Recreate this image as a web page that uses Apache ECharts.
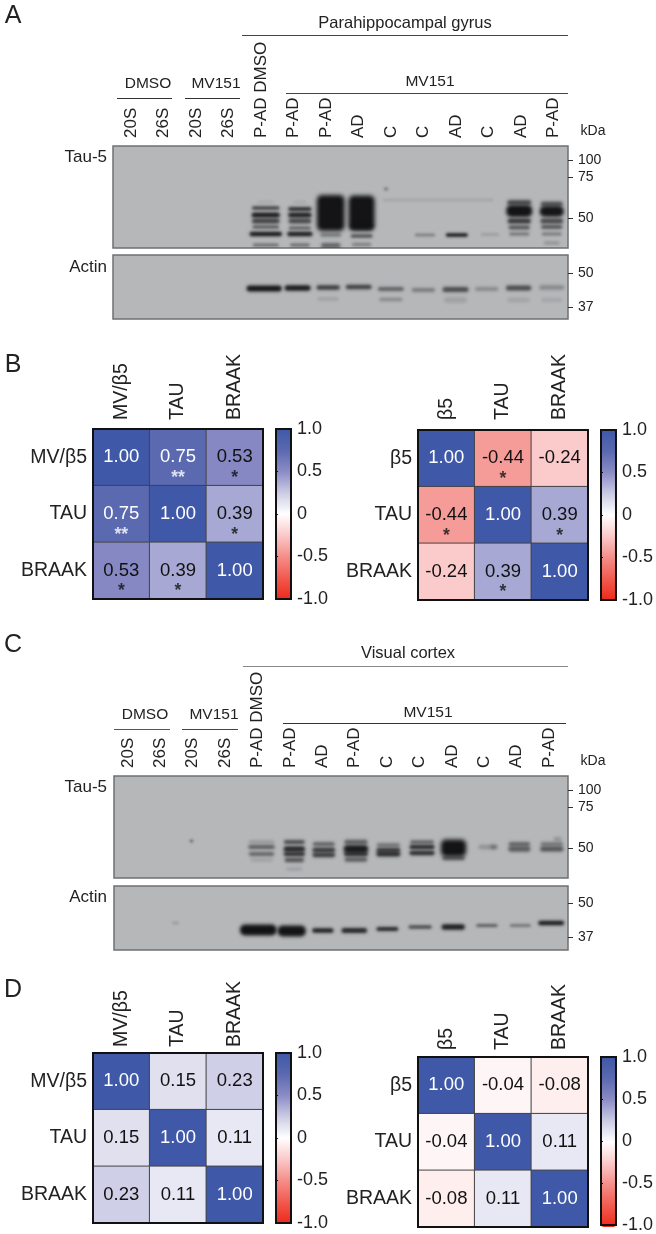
<!DOCTYPE html>
<html><head><meta charset="utf-8">
<style>html,body{margin:0;padding:0;background:#fff}#c{width:656px;height:1234px}</style>
<script src="https://cdn.jsdelivr.net/npm/echarts@6/dist/echarts.min.js"></script>
</head><body><div id="c"></div>
<script>
// ---------- data ----------
const lanesA = ['20S','26S','20S','26S','P-AD DMSO','P-AD','P-AD','AD','C','C','AD','C','AD','P-AD'];
const lanesC = ['20S','26S','20S','26S','P-AD DMSO','P-AD','AD','P-AD','C','C','AD','C','AD','P-AD'];
const tauMarkers = {14:'100',31:'75',72:'50'};
const actinMarkersA = {18:'50',52:'37'};
const actinMarkersC = {17:'50',51:'37'};
// band = [lane, lane shift, migration, breadth (lanes), thickness, intensity]
const tauBandsA = [
 [4,.2,56,.5,1.5,.12],[4,.2,62,.85,3.5,.7],[4,.2,69,.87,5,.95],[4,.2,75,.85,5,.72],[4,.2,81,.82,3,.6],[4,.2,88,1,4.5,.97],[4,.2,99,.8,3,.45],
 [5,.25,56,.4,1.5,.12],[5,.25,63,.72,4,.82],[5,.25,69,.72,5,.92],[5,.25,75,.7,5,.68],[5,.25,82,.68,3,.55],[5,.25,88,.78,4.5,.95],[5,.25,99,.6,3,.48],
 [6,.2,67,.85,36,.98],[6,.2,89,.65,3.5,.38],[6,.2,99.5,.6,5,.5],
 [7,.15,67,.8,35,.98],[7,.15,81,.72,6,.55],[7,.15,90,.68,3.5,.62],[7,.15,98.5,.6,3.5,.32],
 [9,.1,89,.62,2.5,.38],[10,.08,89,.68,3.5,.97],[11,.1,88.5,.56,2.5,.16],
 [12,0,56.5,.74,5,.65],[12,0,65,.8,12,.98],[12,0,75,.72,5,.78],[12,0,81.5,.66,4,.6],[12,0,88,.62,3,.42],
 [13,0,58,.68,5,.6],[13,0,65.3,.74,10.7,.96],[13,0,75,.7,5,.68],[13,0,81,.66,4,.58],[13,0,88,.62,3,.38],[13,0,97,.5,3.5,.2],
 [9.5,0,54,3.4,2,.13],[7.9,0,43,.1,2.5,.6]
];
const actinBandsA = [
 [4,.15,33.5,1.08,6,.98],[5,.18,33,.8,5.5,.95],[6,.12,32.5,.72,4.5,.75],[7,.06,32,.8,4.5,.72],[8,.05,34,.8,4,.52],
 [9,.05,35,.72,4,.36],[10,.04,34.5,.8,5,.65],[11,0,34,.72,4,.27],[12,-.02,33,.78,5,.66],[13,0,32.5,.77,4.5,.28],
 [6,.12,44,.65,3.5,.13],[8,.05,44.5,.72,3.5,.27],[10,.04,45,.7,5.5,.13],[12,-.02,45,.7,4.5,.11],[13,0,45,.65,4.5,.09]
];
const tauBandsC = [
 [4,.05,66,.8,3.5,.17],[4,.05,71,.82,4,.55],[4,.05,78,.78,4,.5],[4,.05,84,.7,3.5,.12],
 [5,.06,66,.65,4,.65],[5,.06,73,.66,5.5,.88],[5,.06,78,.66,4.5,.8],[5,.06,84,.6,4.5,.6],[5,.06,93,.5,3,.14],
 [6,-.03,68,.68,4,.5],[6,-.03,74,.7,5,.75],[6,-.03,79,.7,4.5,.75],
 [7,-.04,66,.72,4.5,.55],[7,-.04,73,.76,8,.93],[7,-.04,78,.74,4.5,.8],[7,-.04,83.5,.7,4.5,.55],
 [8,-.04,69,.72,4,.38],[8,-.04,74,.74,4.5,.75],[8,-.04,78,.74,5,.85],
 [9,0,66,.74,3.5,.5],[9,0,71,.78,4.5,.85],[9,0,77,.78,4.5,.85],
 [10,-.03,72,.78,17,.98],[10,-.03,82,.7,4.5,.55],
 [11,.04,71,.6,4.5,.22],[11,.2,71,.2,4.5,.27],
 [12,0,68,.66,4,.5],[12,0,73,.68,5.5,.55],
 [13,0,68,.7,4,.38],[13,0,73,.72,5,.6],[13,.18,63,.25,4,.22],
 [1.99,-.1,65,.08,2.5,.8]
];
const actinBandsC = [
 [4,-.05,44,1.13,11,.99],[5,-.02,45,.87,11,.98],[6,-.06,44.5,.66,4.5,.93],[7,-.09,44.5,.79,5,.88],[8,-.07,43,.68,4,.88],
 [9,-.06,41,.72,3.5,.65],[10,-.04,41,.72,5.5,.93],[11,0,39.5,.66,3,.55],[12,.03,39.5,.64,2.5,.47],[13,-.02,37,.8,4.5,.95],
 [1.4,0,37,.2,2.5,.18]
];
const rowsLeft = ['MV/β5','TAU','BRAAK'];
const rowsRight = ['β5','TAU','BRAAK'];
const corrB1 = [[1,.75,.53],[.75,1,.39],[.53,.39,1]];
const starsB1 = [['','**','*'],['**','','*'],['*','*','']];
const corrB2 = [[1,-.44,-.24],[-.44,1,.39],[-.24,.39,1]];
const starsB2 = [['','*',''],['*','','*'],['','*','']];
const corrD1 = [[1,.15,.23],[.15,1,.11],[.23,.11,1]];
const corrD2 = [[1,-.04,-.08],[-.04,1,.11],[-.08,.11,1]];
const noStars = [['','',''],['','',''],['','','']];
const scaleColors = ['#ee2a1c','#f15b4f','#f58e89','#fbc9c9','#ffffff','#cbcbe5','#8b8cc5','#5a69b0','#3f58a7'];

// ---------- builders ----------
const FONT = '"Liberation Sans", Arial, sans-serif';
const grid=[],xAxis=[],yAxis=[],series=[],visualMap=[],graphic=[];
const INK='#222';

function txt(t,x,y,size,align){graphic.push({type:'text',x,y,silent:true,z:20,
  style:{text:t,fontFamily:FONT,fontSize:size,fill:INK,align:align||'center',verticalAlign:'middle'}});}
function rule(x1,x2,y,col,w){graphic.push({type:'line',silent:true,z:20,shape:{x1,y1:y+.5,x2,y2:y+.5},style:{stroke:col||'#333',lineWidth:w||1}});}

const FAR=3000; // the band body sits off-canvas, only its soft shadow lands on the gel
function renderBand(p,api){
  const lane=api.value(0),dx=api.value(1),y=api.value(2),b=api.value(3),t=api.value(4),a=api.value(5);
  const base=Math.floor(lane),frac=lane-base;
  const c=api.coord([base,y]);const lw=api.size([1,0])[0];const th=api.size([0,t])[1];
  const w=b*lw;const cx=c[0]+(dx+frac)*lw;
  return {type:'rect',shape:{x:cx-w/2-FAR,y:c[1]-th/2,width:w,height:th,r:Math.min(th/2,w/2,5)},
    style:{fill:'#000',shadowOffsetX:FAR,shadowBlur:2.7+Math.min(th*.1,2),shadowColor:'rgba(16,16,18,'+a+')'}};
}
function blot(left,top,width,height,bands,markers){
  const g=grid.length,xi=xAxis.length,yi=yAxis.length;
  grid.push({left,top,width,height,show:true,backgroundColor:'#b6b7b9',borderColor:'#6f7072',borderWidth:1.5});
  xAxis.push({gridIndex:g,type:'category',data:lanesA.map((_,i)=>i),show:false});
  const ticks=Object.keys(markers).map(Number);
  yAxis.push({gridIndex:g,type:'value',inverse:true,min:0,max:height,position:'right',
    splitLine:{show:false},axisLine:{show:false},
    axisTick:{show:true,length:5,customValues:ticks,lineStyle:{color:'#333',width:1}},
    axisLabel:{show:true,margin:10,customValues:ticks,formatter:v=>markers[v],fontFamily:FONT,fontSize:14,color:INK}});
  series.push({type:'custom',xAxisIndex:xi,yAxisIndex:yi,coordinateSystem:'cartesian2d',clip:true,silent:true,
    encode:{x:0,y:2},data:bands,renderItem:renderBand});
}
function laneLabels(left,top,width,lanes){
  const g=grid.length;
  grid.push({left,top,width,height:1,show:false});
  xAxis.push({gridIndex:g,type:'category',position:'top',data:lanes,axisLine:{show:false,onZero:false},axisTick:{show:false},
    axisLabel:{interval:0,rotate:-90,margin:8,fontFamily:FONT,fontSize:17,color:INK}});
  yAxis.push({gridIndex:g,type:'value',show:false});
}
function heat(left,top,size,rows,values,stars,colX,labelGap){
  const g=grid.length,xi=xAxis.length,yi=yAxis.length;
  grid.push({left,top,width:size,height:size,show:true,z:5,backgroundColor:'transparent',borderColor:'#111',borderWidth:2});
  xAxis.push({gridIndex:g,type:'category',position:'top',data:rows,axisLine:{show:false,onZero:false},axisTick:{show:false},splitLine:{show:false},
    axisLabel:{interval:0,rotate:-90,margin:labelGap,fontFamily:FONT,fontSize:19.5,color:INK}});
  yAxis.push({gridIndex:g,type:'category',inverse:true,data:rows,axisLine:{show:false},axisTick:{show:false},splitLine:{show:false},
    axisLabel:{interval:0,margin:6,fontFamily:FONT,fontSize:19.5,color:INK}});
  const cells=[],marks=[];
  values.forEach((r,j)=>r.forEach((v,i)=>{
    cells.push({value:[i,j,v],label:{color:v>=.7?'#fff':'#111'}});
    if(stars[j][i]) marks.push({value:[i,j],label:{formatter:stars[j][i],color:v>=.7?'#fff':'#111'}});
  }));
  const sIdx=series.length;
  series.push({type:'heatmap',xAxisIndex:xi,yAxisIndex:yi,data:cells,silent:true,
    itemStyle:{borderColor:'#444',borderWidth:1},
    label:{show:true,fontFamily:FONT,fontSize:18.5,formatter:p=>p.value[2].toFixed(2)}});
  if(marks.length) series.push({type:'scatter',xAxisIndex:xi,yAxisIndex:yi,data:marks,symbolSize:1,silent:true,z:4,
    itemStyle:{color:'transparent'},
    label:{show:true,position:'inside',offset:[0,21],fontFamily:FONT,fontSize:17.5,fontWeight:'bold'}});
  // colour bar: visualMap's own ramp, framed and scaled by an empty grid
  visualMap.push({type:'continuous',seriesIndex:sIdx,dimension:2,min:-1,max:1,calculable:false,hoverLink:false,
    left:colX,top,itemWidth:15,itemHeight:size,padding:0,text:null,showLabel:false,inRange:{color:scaleColors},
    textStyle:{color:'transparent',fontSize:1}});
  const b=grid.length;
  grid.push({left:colX,top,width:15,height:size,show:true,z:10,backgroundColor:'transparent',borderColor:'#111',borderWidth:2});
  xAxis.push({gridIndex:b,type:'value',show:false,min:0,max:1});
  yAxis.push({gridIndex:b,type:'value',position:'right',min:-1,max:1,interval:.5,splitLine:{show:false},
    axisLine:{show:false},axisTick:{show:true,length:2,lineStyle:{color:'#111',width:1}},
    axisLabel:{margin:6,padding:[0,0,6,0],fontFamily:FONT,fontSize:18,color:INK,showMinLabel:true,showMaxLabel:true,
      formatter:v=>v===0?'0':v.toFixed(1)}});
  yAxis.push({gridIndex:b,type:'value',position:'left',z:10,min:-1,max:1,interval:.5,splitLine:{show:false},
    axisLine:{show:false},axisLabel:{show:false},axisTick:{show:true,inside:true,length:2,lineStyle:{color:'#111',width:1}}});
}

// ---------- panel A ----------
txt('A',13,16,25);
txt('Parahippocampal gyrus',405,23,16.5); rule(242,568,35,'#444');
txt('DMSO',148,84,15.5); rule(117,172,98,'#333',1.2);
txt('MV151',216,84,15.5); rule(185,240,98,'#333',1.2);
txt('MV151',430,82,15.5); rule(286,568,93,'#444',1.2);
txt('kDa',593,131,14);
txt('Tau-5',107,157,17,'right'); txt('Actin',107,267,17,'right');
laneLabels(114.75,146,455,lanesA);
blot(113,146,455,102,tauBandsA,tauMarkers);
blot(113,255,455,64,actinBandsA,actinMarkersA);
// ---------- panel B ----------
txt('B',13,365,25);
heat(93,429,170,rowsLeft,corrB1,starsB1,276,9);
heat(418,430,170,rowsRight,corrB2,starsB2,601,10);
// ---------- panel C ----------
txt('C',13,645,25);
txt('Visual cortex',408,653,16.5); rule(243,568,666,'#888');
txt('DMSO',145,715,15.5); rule(114,170,729,'#555',1.2);
txt('MV151',214,715,15.5); rule(182,238,729,'#444',1.2);
txt('MV151',428,713,15.5); rule(283,566,723,'#333',1.2);
txt('kDa',593,761,14);
txt('Tau-5',107,787,17,'right'); txt('Actin',107,897,17,'right');
laneLabels(111.75,776,453.6,lanesC);
blot(114,776,454,102,tauBandsC,tauMarkers);
blot(114,886,454,64,actinBandsC,actinMarkersC);
// ---------- panel D ----------
txt('D',13,990,25);
heat(93,1053,170,rowsLeft,corrD1,noStars,276,6);
heat(418,1057,170,rowsRight,corrD2,noStars,601,7);

const chart=echarts.init(document.getElementById('c'),null,{renderer:'canvas'});
chart.setOption({animation:false,backgroundColor:'#fff',tooltip:{show:false},grid,xAxis,yAxis,series,visualMap,graphic:{elements:graphic}});
</script></body></html>
